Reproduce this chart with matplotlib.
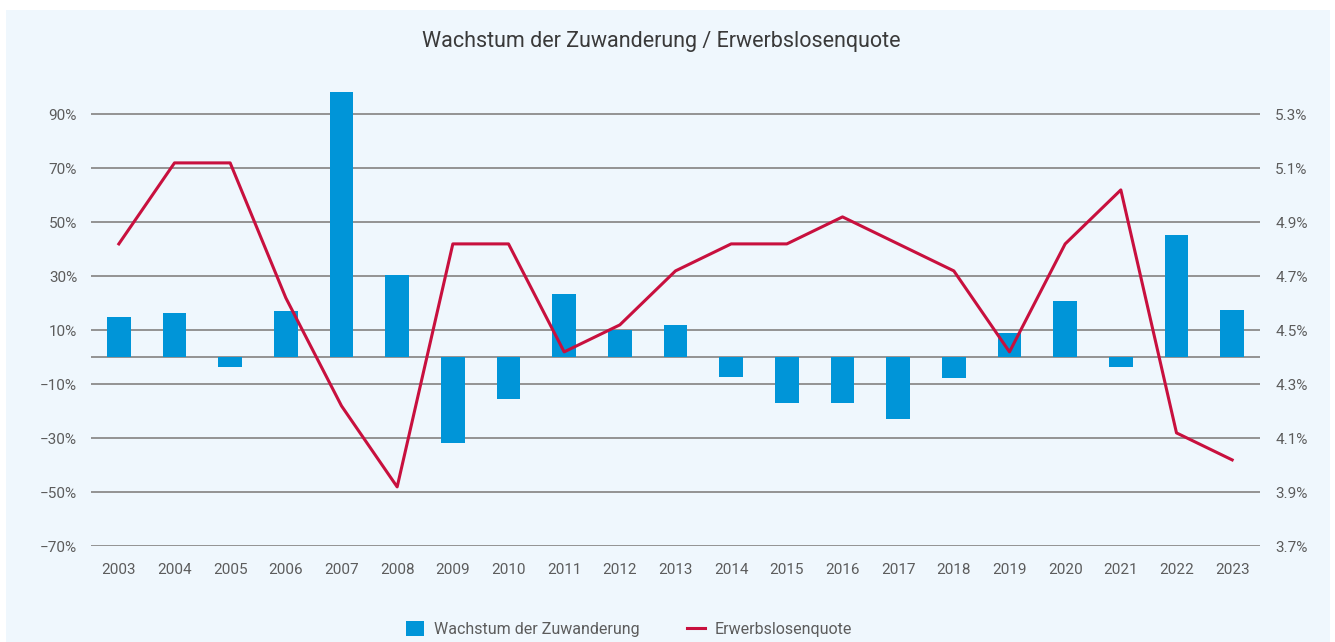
import matplotlib
matplotlib.use("Agg")
import matplotlib.pyplot as plt
from matplotlib.patches import Rectangle
from matplotlib.lines import Line2D
from matplotlib.patches import Patch

years = ["2003", "2004", "2005", "2006", "2007", "2008", "2009", "2010", "2011", "2012", "2013",
         "2014", "2015", "2016", "2017", "2018", "2019", "2020", "2021", "2022", "2023"]
zuwanderung = [14.9, 16.4, -3.5, 17.2, 98.3, 30.5, -31.6, -15.3, 23.4, 10.1, 12.0,
               -7.2, -16.8, -16.8, -22.9, -7.6, 9.0, 20.9, -3.5, 45.3, 17.5]
erwerbslosenquote = [4.82, 5.12, 5.12, 4.62, 4.22, 3.92, 4.82, 4.82, 4.42, 4.52, 4.72,
                     4.82, 4.82, 4.92, 4.82, 4.72, 4.42, 4.82, 5.02, 4.12, 4.02]
left_ticks = [-70, -50, -30, -10, 10, 30, 50, 70, 90]
right_ticks = [3.7, 3.9, 4.1, 4.3, 4.5, 4.7, 4.9, 5.1, 5.3]

title = "Wachstum der Zuwanderung / Erwerbslosenquote"
bar_label = "Wachstum der Zuwanderung"
line_label = "Erwerbslosenquote"

BLUE = "#0095d8"
RED = "#c8103e"
BG = "#eff7fd"
GRID = "#939393"
TXT = "#5c5c5c"

plt.rcParams["font.family"] = ["Roboto", "DejaVu Sans"]

W, H = 1335, 642
fig = plt.figure(figsize=(W / 100, H / 100), dpi=100, facecolor="white")
fig.patches.append(Rectangle((6 / W, 0), (1330 - 6) / W, (H - 10) / H,
                             transform=fig.transFigure, facecolor=BG, edgecolor="none", zorder=-10))

x0, x1 = 91, 1260
y_bot, y_top = 546.3, 87.3
ax = fig.add_axes([x0 / W, 1 - y_bot / H, (x1 - x0) / W, (y_bot - y_top) / H])
ax.set_facecolor("none")
xs = list(range(len(years)))
ax.bar(xs, zuwanderung, width=0.43, color=BLUE, zorder=2)
ax.set_xlim(-0.5, len(years) - 0.5)
ax.set_ylim(-70, 100)
ax.set_yticks(left_ticks)
ax.set_yticklabels([f"{v}%".replace("-", "\u2212") for v in left_ticks])
ax.set_xticks(xs)
ax.set_xticklabels(years)
ax.grid(axis="y", color=GRID, linewidth=1.4, zorder=0)
ax.axhline(0, color=GRID, linewidth=1.4, zorder=1)
ax.set_axisbelow(True)
for s in ax.spines.values():
    s.set_visible(False)
ax.tick_params(axis="both", length=0, labelsize=11, labelcolor=TXT)
ax.tick_params(axis="y", pad=10)
ax.tick_params(axis="x", pad=12)

ax2 = ax.twinx()
span = (100 - (-70)) / 20 * 0.2
ax2.set_ylim(3.7, 3.7 + span)
ax2.plot(xs, erwerbslosenquote, color=RED, linewidth=2.2, zorder=3)
ax2.set_yticks(right_ticks)
ax2.set_yticklabels([f"{t:.1f}%" for t in right_ticks])
for s in ax2.spines.values():
    s.set_visible(False)
ax2.tick_params(axis="y", length=0, labelsize=11, labelcolor=TXT, pad=11)

fig.text(661 / W, 1 - 42 / H, title, ha="center", va="center",
         fontsize=15.5, color="#3a3a3a")

handles = [Patch(facecolor=BLUE, edgecolor="none", label=bar_label),
           Line2D([0], [0], color=RED, linewidth=2.2, label=line_label)]
fig.legend(handles=handles, loc="center", bbox_to_anchor=(629 / W, 1 - 629 / H), ncol=2,
           frameon=False, fontsize=11.5, labelcolor=TXT, handlelength=1.1, handleheight=1.1,
           handletextpad=0.6, columnspacing=3.0)

fig.savefig("out.png", dpi=100, facecolor="white")
